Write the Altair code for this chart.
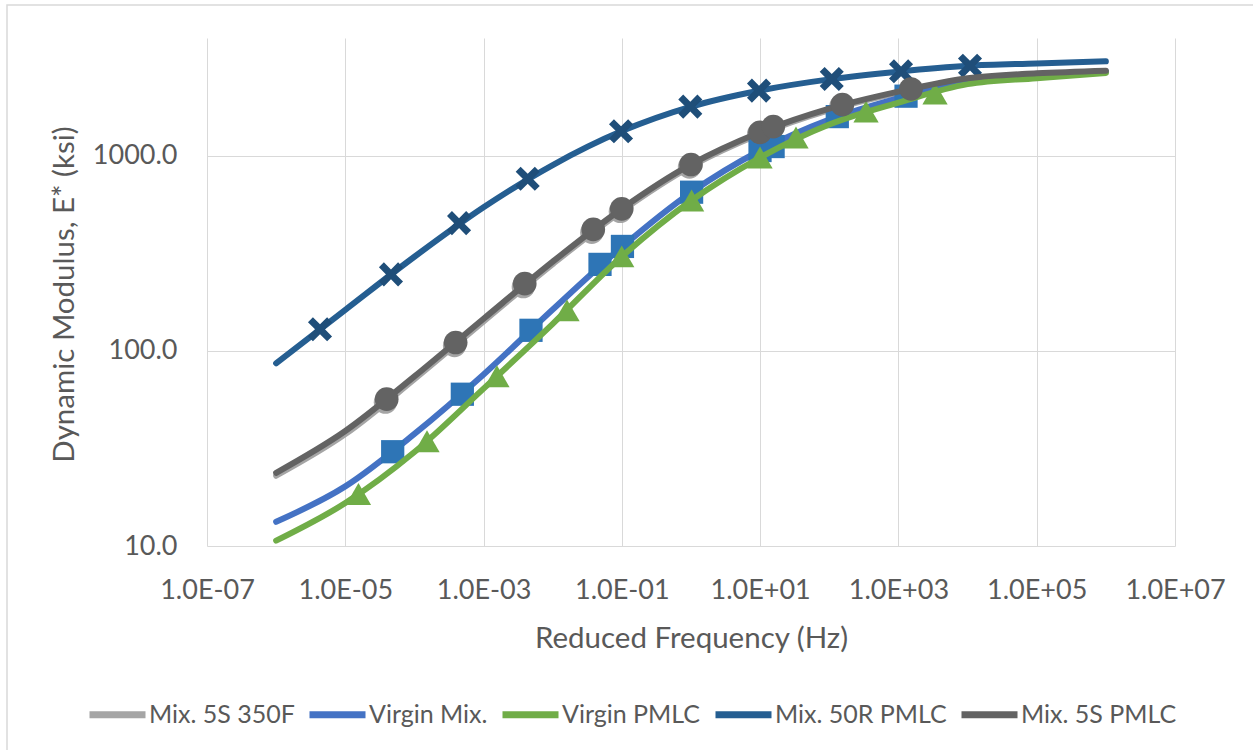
import altair as alt
import pandas as pd

# ---- series definitions -------------------------------------------------
SERIES = ["Mix. 5S 350F", "Virgin Mix.", "Virgin PMLC", "Mix. 50R PMLC", "Mix. 5S PMLC"]
LINE_COLORS = ["#A5A5A5", "#4472C4", "#70AD47", "#255E91", "#636363"]
MARKER_COLORS = ["#A5A5A5", "#2E75B6", "#70AD47", "#1F4E79", "#636363"]

# chunky "x" marker drawn as a filled polygon in the [-1, 1] symbol box
X_MARK = ("M0,-0.41L0.59,-1L1,-0.59L0.41,0L1,0.59L0.59,1L0,0.41"
          "L-0.59,1L-1,0.59L-0.41,0L-1,-0.59L-0.59,-1Z")
MARKER_SHAPES = ["circle", "square", "triangle-up", X_MARK, "circle"]
MARKER_SIZES = [540, 540, 640, 580, 560]

# ---- fitted master curves (one sample per decade of reduced frequency) ---
FIT_FREQ = [1e-6, 1e-5, 1e-4, 1e-3, 1e-2, 1e-1, 1e0, 1e1, 1e2, 1e3, 1e4, 1e5, 1e6]
FIT_5S_350F = [22.9, 37.4, 71.5, 141.5, 278, 520, 879, 1288, 1709, 2093, 2447, 2606, 2690]
FIT_VIRGIN_MIX = [13.3, 20.2, 37.5, 75.6, 162.7, 340, 647, 1061, 1528, 1968, 2405, 2566, 2690]
FIT_VIRGIN_PMLC = [10.65, 16.6, 30.3, 64.0, 137.4, 304, 587, 977, 1441, 1867, 2321, 2491, 2649]
FIT_50R_PMLC = [86.3, 162, 303, 543, 894, 1334, 1781, 2155, 2456, 2690, 2880, 2962, 3038]
FIT_5S_PMLC = [23.7, 38.8, 73.9, 145.9, 286, 534, 900, 1315, 1739, 2125, 2486, 2636, 2721]

# ---- measured dynamic modulus points ------------------------------------
PTS_5S_350F_F = [3.8e-5, 3.8e-4, 3.75e-3, 0.0367, 0.095, 0.95, 9.5, 14.7, 147, 1450]
PTS_5S_350F_E = [54.5, 106.3, 213, 404, 517, 873, 1288, 1374, 1791, 2150]
PTS_VIRGIN_MIX_F = [4.85e-5, 4.93e-4, 4.85e-3, 0.0483, 0.102, 1.02, 9.96, 15.4, 130.6, 1288]
PTS_VIRGIN_MIX_E = [30.4, 59.9, 127.3, 277, 342.3, 649, 1061, 1112, 1583, 2014]
PTS_VIRGIN_PMLC_F = [1.55e-5, 1.52e-4, 1.56e-3, 0.0161, 0.0996, 1.02, 9.96, 33.0, 340, 3383]
PTS_VIRGIN_PMLC_E = [18.45, 34.4, 74.1, 161.1, 304.4, 588.8, 977, 1236, 1679, 2075]
PTS_50R_PMLC_F = [4.31e-6, 4.58e-5, 4.42e-4, 4.35e-3, 0.0973, 0.977, 9.63, 108.5, 1091, 10840]
PTS_50R_PMLC_E = [128.8, 246.2, 450.6, 760, 1331, 1781, 2150, 2467, 2700, 2886]
PTS_5S_PMLC_F = [3.97e-5, 3.95e-4, 3.94e-3, 0.0386, 0.0996, 1.0, 9.96, 15.5, 154.5, 1521]
PTS_5S_PMLC_E = [56.5, 110.2, 220.6, 418.3, 533.6, 899.5, 1315, 1407, 1823, 2193]

FITS = [FIT_5S_350F, FIT_VIRGIN_MIX, FIT_VIRGIN_PMLC, FIT_50R_PMLC, FIT_5S_PMLC]
PTS = [
    (PTS_5S_350F_F, PTS_5S_350F_E),
    (PTS_VIRGIN_MIX_F, PTS_VIRGIN_MIX_E),
    (PTS_VIRGIN_PMLC_F, PTS_VIRGIN_PMLC_E),
    (PTS_50R_PMLC_F, PTS_50R_PMLC_E),
    (PTS_5S_PMLC_F, PTS_5S_PMLC_E),
]

# ---- axes ---------------------------------------------------------------
X_TICKS = [1e-7, 1e-5, 1e-3, 1e-1, 1e1, 1e3, 1e5, 1e7]
X_TICK_LABELS = ["1.0E-07", "1.0E-05", "1.0E-03", "1.0E-01",
                 "1.0E+01", "1.0E+03", "1.0E+05", "1.0E+07"]
Y_TICKS = [10, 100, 1000]

FONT = "Lato"
TEXT = "#595959"
GRID = "#D9D9D9"
W, H = 968, 508
PAD = {"left": 207, "top": 38, "right": 78, "bottom": 204}

label_expr = ("[" + ",".join(f"'{s}'" for s in X_TICK_LABELS) + "]"
              "[round((log(datum.value) / LN10 + 7) / 2)]")

x_enc = alt.X(
    "freq:Q",
    scale=alt.Scale(type="log", domain=[1e-7, 1e7], nice=False),
    axis=alt.Axis(
        values=X_TICKS, labelExpr=label_expr, title="Reduced Frequency (Hz)",
        grid=True, gridColor=GRID, domain=False, ticks=False, tickSize=0,
        labelOverlap=False, labelFlush=False, labelBound=False,
        labelFont=FONT, labelFontSize=27, labelColor=TEXT, labelPadding=31,
        titleFont=FONT, titleFontSize=29.5, titleColor=TEXT, titleFontWeight="normal",
        titleX=W / 2, titleY=92, titleBaseline="middle", titleAlign="center",
    ),
)
y_enc = alt.Y(
    "E:Q",
    scale=alt.Scale(type="log", domain=[10, 4000], nice=False),
    axis=alt.Axis(
        values=Y_TICKS, format=".1f", title="Dynamic Modulus, E* (ksi)",
        grid=True, gridColor=GRID, domain=False, ticks=False, tickSize=0,
        labelOverlap=False,
        labelFont=FONT, labelFontSize=27, labelColor=TEXT, labelPadding=30,
        titleFont=FONT, titleFontSize=29.5, titleColor=TEXT, titleFontWeight="normal",
        titleX=-143, titleY=H / 2 + 2, titleAngle=270, titleBaseline="middle",
        titleAlign="center",
    ),
)

color_enc = alt.Color(
    "series:N",
    scale=alt.Scale(domain=SERIES, range=LINE_COLORS),
    legend=alt.Legend(
        title=None, orient="none", legendX=-121, legendY=645,
        direction="horizontal", columns=5, symbolType="stroke",
        symbolSize=3136, symbolStrokeWidth=7, labelFont=FONT, labelFontSize=25,
        labelColor=TEXT, labelOffset=0, columnPadding=0, labelLimit=400,
    ),
)

# ---- layers: each series draws its curve, then its markers --------------
layers = []

# chart-area frame; its right and bottom sides run past the page edge
border = alt.Chart(alt.Data(values=[{}])).mark_rect(
    filled=False, stroke=GRID, strokeWidth=1.5
).encode(
    x=alt.value(7 - PAD["left"]), x2=alt.value(1270 - PAD["left"]),
    y=alt.value(5 - PAD["top"]), y2=alt.value(770 - PAD["top"]),
)
layers.append(border)

for i, name in enumerate(SERIES):
    fit_df = pd.DataFrame({"freq": FIT_FREQ, "E": FITS[i], "series": name})
    line = alt.Chart(fit_df).mark_line(
        interpolate="monotone", strokeWidth=6, strokeCap="round", strokeJoin="round"
    ).encode(x=x_enc, y=y_enc, color=color_enc)
    layers.append(line)

    f, e = PTS[i]
    pts_df = pd.DataFrame({"freq": f, "E": e, "series": name})
    pts = alt.Chart(pts_df).mark_point(
        filled=True, shape=MARKER_SHAPES[i], size=MARKER_SIZES[i],
        color=MARKER_COLORS[i], opacity=1,
    ).encode(x=x_enc, y=y_enc)
    layers.append(pts)

chart = alt.layer(*layers).properties(
    width=W, height=H,
    autosize=alt.AutoSizeParams(type="none"),
    padding=PAD,
    background="white",
).configure_view(strokeWidth=0)

chart.save("out.html", embed_options={"renderer": "svg", "actions": False})
